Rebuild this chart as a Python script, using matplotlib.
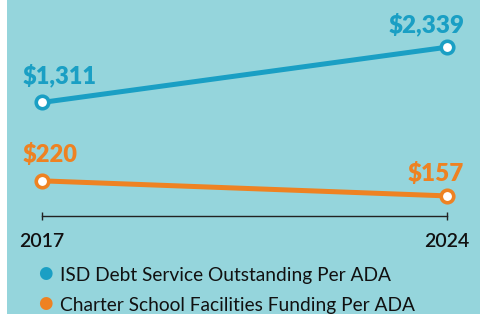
import matplotlib.pyplot as plt
from matplotlib.patches import Rectangle

years = [2017, 2024]
isd_debt = [1311, 2339]
charter_fac = [220, 157]
isd_labels = ["$1,311", "$2,339"]
charter_labels = ["$220", "$157"]
legend_names = ["ISD Debt Service Outstanding Per ADA",
                "Charter School Facilities Funding Per ADA"]

bg = "#95d5dc"
blue = "#1a9fc4"
orange = "#ee8222"
font = "Lato"

fig = plt.figure(figsize=(4.81, 3.14), dpi=100)
fig.patch.set_facecolor("white")
fig.add_artist(Rectangle((7 / 481, 0), 1, 1, transform=fig.transFigure,
                         facecolor=bg, edgecolor="none", zorder=-10))

left, width = 42 / 481, 405 / 481
bottom = (314 - 216) / 314
ax = fig.add_axes([left, bottom, width, 1 - bottom])
ax.set_facecolor("none")
ax2 = ax.twinx()
ax2.set_facecolor("none")

# orange series on its own scale
ax.plot(years, charter_fac, color=orange, lw=3.6, marker="o", ms=9,
        mfc="white", mec=orange, mew=2.6, clip_on=False, zorder=3)
ax.set_ylim(73, 976)
# blue series on a separate scale
ax2.plot(years, isd_debt, color=blue, lw=3.6, marker="o", ms=9,
         mfc="white", mec=blue, mew=2.6, clip_on=False, zorder=3)
ax2.set_ylim(-801, 3217)
ax.set_xlim(2017, 2024)

ax.annotate(charter_labels[0], (years[0], charter_fac[0]), xytext=(-14, 11),
            textcoords="offset points", ha="left", va="bottom", color=orange,
            fontsize=17, fontweight="heavy", family=font)
ax.annotate(charter_labels[1], (years[1], charter_fac[1]), xytext=(12, 8),
            textcoords="offset points", ha="right", va="bottom", color=orange,
            fontsize=17.5, fontweight="heavy", family=font)
ax2.annotate(isd_labels[0], (years[0], isd_debt[0]), xytext=(-14, 11),
             textcoords="offset points", ha="left", va="bottom", color=blue,
             fontsize=17, fontweight="heavy", family=font)
ax2.annotate(isd_labels[1], (years[1], isd_debt[1]), xytext=(13, 8),
             textcoords="offset points", ha="right", va="bottom", color=blue,
             fontsize=17.5, fontweight="heavy", family=font)

for a in (ax, ax2):
    for s in ["top", "right", "left"]:
        a.spines[s].set_visible(False)
    a.set_yticks([])
ax2.spines["bottom"].set_visible(False)
ax2.tick_params(axis="x", length=0, labelbottom=False)
ax.spines["bottom"].set_color("#222222")
ax.spines["bottom"].set_linewidth(1)
ax.set_xticks(years)
ax.set_xticklabels([str(y) for y in years], family=font, fontsize=14,
                   color="#111111", fontweight="semibold")
ax.tick_params(axis="x", direction="inout", length=6, width=1, color="#222222",
               pad=9)

for i, (name, c) in enumerate(zip(legend_names, [blue, orange])):
    y = 1 - (273 + 30 * i) / 314
    fig.text(45 / 481, y, "\u25cf", color=c, fontsize=12, ha="center",
             va="center", family="DejaVu Sans")
    fig.text(60 / 481, y - 0.008, name, color="#111111", fontsize=13.8,
             ha="left", va="center", family=font)

fig.savefig("out.png", dpi=100)
